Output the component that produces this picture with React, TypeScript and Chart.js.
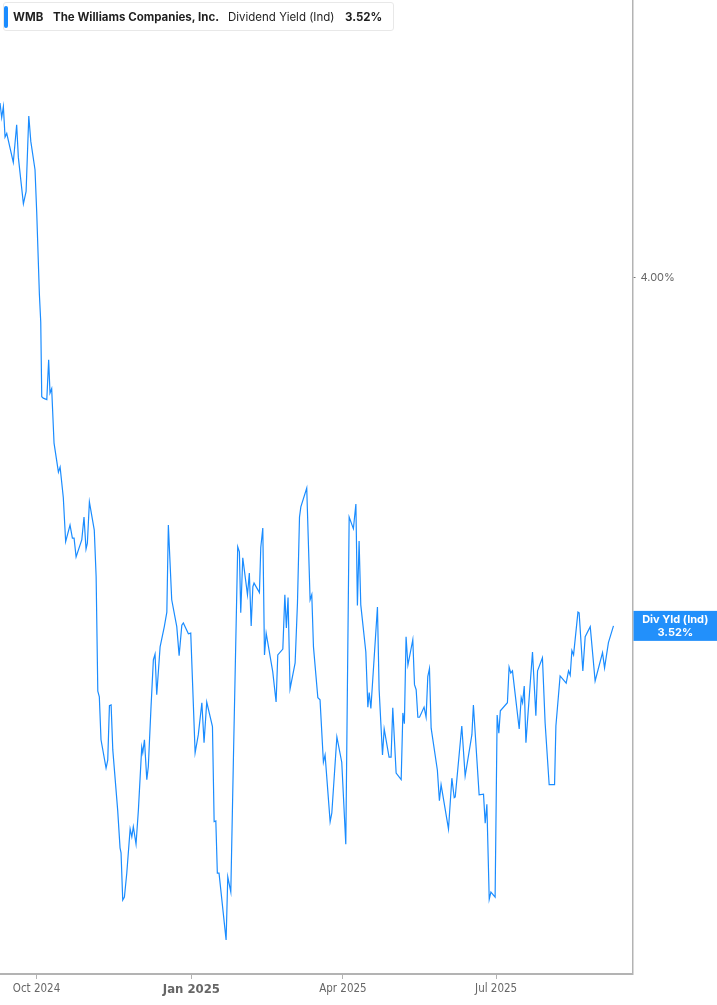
import { useEffect, useRef } from 'react';
import { Chart, registerables, type ChartConfiguration } from 'chart.js';

Chart.register(...registerables);

// day offsets from 2024-10-01
const days = [
  -21.7, -20.7, -19.7, -18.7, -17.7, -13.8, -11.8, -10.8, -7.8, -6.2,
  -4.6, -3.4, -0.9, 0.1, 1.7, 2.5, 3.1, 4.0, 6.1, 7.2,
  8.0, 9.0, 10.4, 13.0, 14.0, 15.9, 17.3, 19.9, 21.3, 22.3,
  23.5, 26.9, 28.2, 29.4, 30.2, 31.4, 34.3, 35.4, 36.4, 37.3,
  38.3, 41.3, 42.3, 43.3, 44.3, 45.3, 48.2, 49.6, 50.2, 51.2,
  52.2, 53.6, 55.6, 56.6, 57.5, 59.1, 60.5, 62.5, 63.1, 64.1,
  65.5, 66.4, 68.0, 69.4, 70.4, 71.4, 73.4, 75.9, 77.4, 78.3,
  80.3, 83.3, 84.7, 86.3, 87.2, 90.2, 91.6, 94.2, 96.1, 98.2,
  99.5, 101.1, 104.5, 105.5, 106.5, 107.4, 108.4, 112.6, 113.6, 115.4,
  116.9, 119.5, 120.5, 121.3, 122.5, 125.3, 126.4, 127.5, 128.5, 129.2,
  132.4, 133.2, 134.4, 135.4, 136.4, 140.3, 142.3, 143.3, 146.3, 147.5,
  148.4, 149.4, 150.6, 153.6, 155.0, 156.2, 157.0, 160.5, 162.5, 163.5,
  164.5, 167.1, 168.4, 170.4, 171.4, 174.4, 175.4, 178.4, 181.3, 183.7,
  185.7, 188.2, 189.7, 190.6, 191.6, 192.6, 195.6, 196.8, 197.6, 198.6,
  202.5, 203.5, 205.5, 206.5, 209.4, 210.6, 211.6, 213.6, 216.6, 217.6,
  218.5, 219.5, 220.6, 223.5, 224.5, 225.5, 226.5, 227.5, 230.2, 231.4,
  232.4, 233.4, 234.4, 238.1, 239.3, 240.3, 244.7, 246.7, 248.1, 248.7,
  252.6, 254.6, 258.6, 259.5, 262.9, 265.5, 266.5, 267.5, 268.9, 269.9,
  272.4, 273.6, 274.6, 275.5, 279.7, 280.7, 281.7, 282.7, 286.7, 287.9,
  288.7, 289.7, 290.7, 294.6, 296.6, 297.6, 300.5, 302.1, 304.5, 307.7,
  308.5, 311.0, 314.6, 316.0, 317.0, 318.0, 319.0, 321.6, 322.3, 324.5,
  325.9, 328.9, 331.8, 336.2, 337.4, 339.7, 342.7,
];

// dividend yield (%) for each day above
const yields = [
  4.241, 4.221, 4.236, 4.194, 4.199, 4.159, 4.211, 4.166, 4.102, 4.119,
  4.223, 4.188, 4.149, 4.091, 3.977, 3.939, 3.836, 3.834, 3.832, 3.887,
  3.841, 3.847, 3.772, 3.732, 3.739, 3.697, 3.636, 3.659, 3.641, 3.641,
  3.615, 3.639, 3.670, 3.626, 3.634, 3.691, 3.652, 3.588, 3.430, 3.422,
  3.363, 3.324, 3.335, 3.410, 3.411, 3.349, 3.266, 3.214, 3.207, 3.142,
  3.146, 3.179, 3.240, 3.229, 3.243, 3.219, 3.266, 3.353, 3.345, 3.363,
  3.308, 3.326, 3.408, 3.473, 3.481, 3.425, 3.491, 3.519, 3.539, 3.659,
  3.556, 3.519, 3.479, 3.521, 3.524, 3.509, 3.510, 3.345, 3.370, 3.414,
  3.359, 3.415, 3.381, 3.250, 3.251, 3.179, 3.179, 3.087, 3.174, 3.153,
  3.331, 3.629, 3.622, 3.538, 3.614, 3.563, 3.593, 3.520, 3.574, 3.579,
  3.566, 3.628, 3.655, 3.480, 3.510, 3.457, 3.415, 3.480, 3.488, 3.563,
  3.517, 3.559, 3.433, 3.469, 3.552, 3.670, 3.684, 3.710, 3.556, 3.563,
  3.491, 3.421, 3.418, 3.332, 3.342, 3.250, 3.262, 3.367, 3.332, 3.219,
  3.670, 3.654, 3.688, 3.548, 3.637, 3.549, 3.484, 3.408, 3.428, 3.406,
  3.546, 3.432, 3.342, 3.378, 3.339, 3.339, 3.407, 3.317, 3.308, 3.400,
  3.385, 3.505, 3.466, 3.501, 3.439, 3.432, 3.394, 3.394, 3.408, 3.394,
  3.450, 3.461, 3.379, 3.321, 3.279, 3.301, 3.240, 3.310, 3.283, 3.284,
  3.382, 3.313, 3.370, 3.411, 3.287, 3.288, 3.248, 3.274, 3.143, 3.153,
  3.146, 3.397, 3.372, 3.403, 3.414, 3.463, 3.455, 3.458, 3.378, 3.421,
  3.414, 3.437, 3.359, 3.484, 3.396, 3.458, 3.476, 3.386, 3.301, 3.301,
  3.382, 3.451, 3.441, 3.458, 3.452, 3.486, 3.480, 3.539, 3.538, 3.458,
  3.505, 3.519, 3.444, 3.483, 3.462, 3.497, 3.520,
];

const tickDays = [0, 92, 182, 273];
const tickLabels = ['Oct 2024', 'Jan 2025', 'Apr 2025', 'Jul 2025'];
const yTicks = [4];

const LINE_BLUE = '#1a8cff';
const AXIS_GREY = '#b3b3b3';
const lastValue = 3.52;

// box on the right axis with the latest value
const lastValueBox = {
  id: 'lastValueBox',
  afterDraw(chart: Chart) {
    const { ctx, chartArea } = chart;
    const y = chart.scales.y.getPixelForValue(lastValue);
    const left = chartArea.right + 1;
    const w = chart.width - left;
    ctx.save();
    ctx.fillStyle = '#2290fb';
    ctx.fillRect(left, y - 15, w, 30);
    ctx.fillStyle = '#ffffff';
    ctx.font = 'bold 11px Inter, "Noto Sans", sans-serif';
    ctx.textAlign = 'center';
    ctx.textBaseline = 'middle';
    ctx.fillText('Div Yld (Ind)', left + w / 2, y - 6);
    ctx.fillText(lastValue.toFixed(2) + '%', left + w / 2, y + 7);
    ctx.restore();
  },
};

export default function App() {
  const canvasRef = useRef<HTMLCanvasElement>(null);
  const chartRef = useRef<Chart | null>(null);

  useEffect(() => {
    if (!canvasRef.current) return;

    const config: ChartConfiguration<'line'> = {
      type: 'line',
      data: {
        datasets: [{
          data: days.map((d, i) => ({ x: d, y: yields[i] })),
          borderColor: LINE_BLUE,
          borderWidth: 1.2,
          pointRadius: 0,
          tension: 0,
          fill: false,
        }],
      },
      options: {
        animation: false,
        responsive: false,
        maintainAspectRatio: false,
        layout: { padding: 0 },
        plugins: {
          legend: { display: false },
          tooltip: { enabled: false },
        },
        scales: {
          x: {
            type: 'linear',
            min: -21.7,
            max: 354,
            afterBuildTicks: (scale) => { scale.ticks = tickDays.map((v) => ({ value: v })); },
            afterFit: (scale: any) => { scale.height = 31; scale.paddingLeft = 0; scale.paddingRight = 0; },
            grid: { drawOnChartArea: false, drawTicks: true, tickLength: 5, color: AXIS_GREY },
            border: { display: true, color: AXIS_GREY, width: 2 },
            ticks: {
              autoSkip: false,
              maxRotation: 0,
              padding: 3,
              color: '#666666',
              font: (ctx: any) => (ctx.tick && ctx.tick.value === 92
                ? { family: '"Liberation Sans Narrow", "DejaVu Sans Condensed", Roboto, sans-serif', size: 13, weight: 'bold' }
                : { family: '"Liberation Sans Narrow", "DejaVu Sans Condensed", Roboto, sans-serif', size: 11.5 }),
              callback: (v) => tickLabels[tickDays.indexOf(Number(v))] ?? '',
            },
          },
          y: {
            type: 'linear',
            position: 'right',
            min: 3.04,
            max: 4.383,
            afterBuildTicks: (scale) => { scale.ticks = yTicks.map((v) => ({ value: v })); },
            afterFit: (scale: any) => { scale.width = 84.5; scale.paddingTop = 0; scale.paddingBottom = 0; },
            grid: { drawOnChartArea: false, drawTicks: true, tickLength: 3, color: '#777777' },
            border: { display: true, color: AXIS_GREY, width: 1.5 },
            ticks: {
              padding: 5,
              color: '#666666',
              font: { family: 'Inter, "Noto Sans", sans-serif', size: 11 },
              callback: (v) => Number(v).toFixed(2) + '%',
            },
          },
        },
      },
      plugins: [lastValueBox],
    };

    chartRef.current = new Chart(canvasRef.current, config);
    return () => { chartRef.current?.destroy(); chartRef.current = null; };
  }, []);

  const headerText: React.CSSProperties = {
    position: 'absolute',
    top: 10,
    fontFamily: 'Inter, "Noto Sans", sans-serif',
    fontSize: 11.5,
    color: '#1f1f1f',
    whiteSpace: 'nowrap',
    lineHeight: '14px',
  };

  return (
    <div style={{ position: 'absolute', left: 0, top: 0, width: 717, height: 1005, background: '#fff' }}>
      <canvas ref={canvasRef} width={717} height={1005} style={{ display: 'block' }} />
      <div
        style={{
          position: 'absolute', left: 3, top: 2, width: 391, height: 29,
          background: '#fff', border: '1px solid #e8e8e8', borderRadius: 3, boxSizing: 'border-box',
        }}
      >
        <div style={{ position: 'absolute', left: 0, top: 3, width: 4, height: 22, background: '#1a8cff', borderRadius: 2 }} />
      </div>
      <span style={{ ...headerText, left: 13, fontWeight: 700 }}>WMB</span>
      <span style={{ ...headerText, left: 53, fontWeight: 700 }}>The Williams Companies, Inc.</span>
      <span style={{ ...headerText, left: 228, fontWeight: 400 }}>Dividend Yield (Ind)</span>
      <span style={{ ...headerText, left: 345, fontWeight: 700 }}>3.52%</span>
    </div>
  );
}
